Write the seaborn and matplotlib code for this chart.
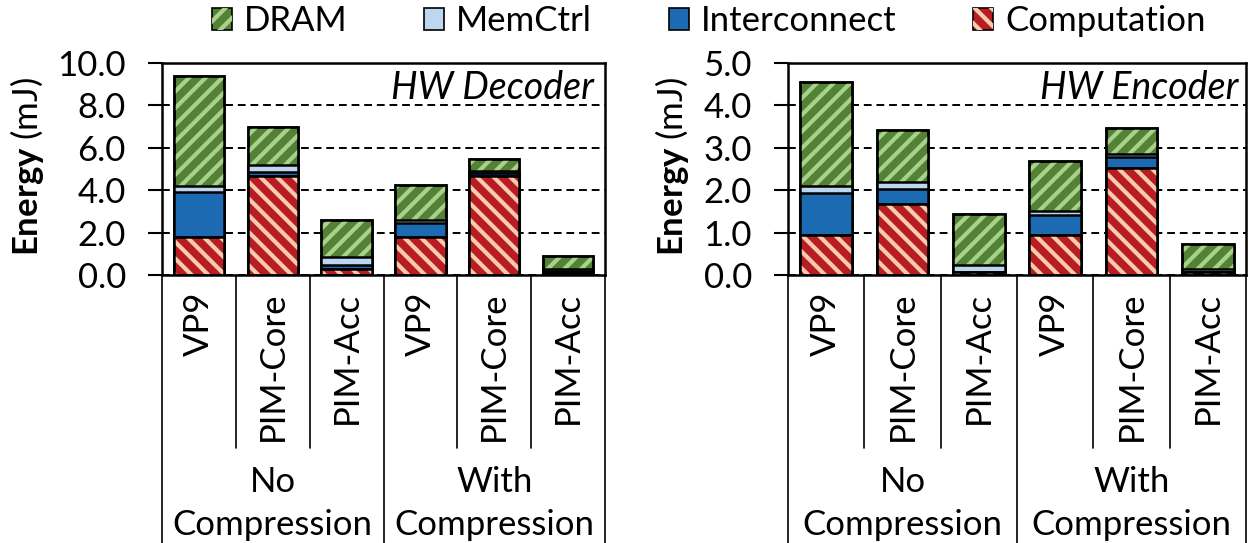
"""
Energy breakdown of the HW video decoder / encoder, with and without
compression, for the VP9 baseline, PIM-Core and PIM-Acc.
"""

import matplotlib

matplotlib.use("Agg")

import matplotlib.pyplot as plt
import numpy as np
import pandas as pd
import seaborn as sns
from matplotlib.patches import Patch
from matplotlib.ticker import FormatStrFormatter

# ---------------------------------------------------------------- data
configs = ["VP9", "PIM-Core", "PIM-Acc"]
groups = ["No\nCompression", "With\nCompression"]
components = ["Computation", "Interconnect", "MemCtrl", "DRAM"]  # bottom -> top

# segment heights (mJ), order: No comp (VP9, PIM-Core, PIM-Acc), With comp (...)
dec_computation = [1.77, 4.68, 0.28, 1.77, 4.68, 0.10]
dec_interconnect = [2.13, 0.16, 0.21, 0.66, 0.12, 0.08]
dec_memctrl = [0.31, 0.36, 0.34, 0.17, 0.12, 0.10]
dec_dram = [5.19, 1.76, 1.77, 1.66, 0.55, 0.63]

enc_computation = [0.95, 1.67, 0.06, 0.95, 2.53, 0.06]
enc_interconnect = [0.99, 0.37, 0.02, 0.47, 0.25, 0.02]
enc_memctrl = [0.16, 0.16, 0.16, 0.09, 0.08, 0.05]
enc_dram = [2.45, 1.21, 1.21, 1.18, 0.60, 0.61]

dec_yticks = [0, 2, 4, 6, 8, 10]
enc_yticks = [0, 1, 2, 3, 4, 5]

# ---------------------------------------------------------------- style
STYLE = {
    "DRAM": dict(face="#548235", hatch="//", hatch_color="#A9D18E"),
    "MemCtrl": dict(face="#BDD7EE"),
    "Interconnect": dict(face="#1C6BB2"),
    "Computation": dict(face="#B81C25", hatch="\\\\", hatch_color="#F8CBAD"),
}
FONT = "Lato"
FS = 25
BAR_W = 0.68
EDGE_LW = 1.8

sns.set_theme(style="ticks")
plt.rcParams["font.family"] = [FONT, "DejaVu Sans"]
plt.rcParams["mathtext.fontset"] = "custom"
plt.rcParams["mathtext.rm"] = FONT
plt.rcParams["mathtext.bf"] = f"{FONT}:bold"
plt.rcParams["hatch.linewidth"] = 3.0
plt.rcParams["axes.edgecolor"] = "black"
plt.rcParams["axes.linewidth"] = 1.8
for key in ["text.color", "axes.labelcolor", "xtick.color", "ytick.color"]:
    plt.rcParams[key] = "black"

slots = [f"{g}|{c}" for g in groups for c in configs]


def build_frame(segments):
    """Long table with the cumulative top of every stacked segment."""
    tops = np.cumsum(np.array([segments[c] for c in components]), axis=0)
    rows = []
    for ci, comp in enumerate(components):
        for si, slot in enumerate(slots):
            rows.append({"slot": slot, "component": comp,
                         "energy": segments[comp][si], "top": tops[ci, si]})
    return pd.DataFrame(rows)


def restyle_new(ax, n, **props):
    for p in ax.patches[n:]:
        p.set(**props)


def draw_layer(ax, df, comp):
    style = STYLE[comp]
    sub = df[df["component"] == comp]
    kw = dict(data=sub, x="slot", y="top", order=slots, width=BAR_W,
              saturation=1, errorbar=None, ax=ax)
    sns.barplot(color=style["face"], edgecolor="black", linewidth=EDGE_LW, **kw)
    if "hatch" in style:
        n = len(ax.patches)
        sns.barplot(color=style["face"], **kw)
        restyle_new(ax, n, facecolor="none", edgecolor=style["hatch_color"],
                    hatch=style["hatch"], linewidth=0)
        n = len(ax.patches)
        sns.barplot(color=style["face"], **kw)
        restyle_new(ax, n, facecolor="none", edgecolor="black", linewidth=EDGE_LW)


def draw_panel(ax, segments, yticks, title, title_x, label_x):
    df = build_frame(segments)
    # tallest (cumulative) layer first, each lower layer drawn over it
    for comp in reversed(components):
        draw_layer(ax, df, comp)

    ax.set_xlim(-0.5, len(slots) - 0.5)
    ax.set_ylim(yticks[0], yticks[-1])
    ax.set_yticks(yticks)
    ax.yaxis.set_major_formatter(FormatStrFormatter("%.1f"))
    ax.yaxis.grid(True, color="black", linestyle=(0, (4, 2.5)), linewidth=1.4)
    ax.set_axisbelow(True)
    for side in ["top", "right", "left", "bottom"]:
        ax.spines[side].set_visible(True)
        ax.spines[side].set_linewidth(EDGE_LW)
    ax.tick_params(axis="y", labelsize=FS, length=10, width=1.5, pad=16,
                   colors="black")

    ax.set_xticks(range(len(slots)))
    ax.set_xticklabels(configs * len(groups), rotation=90, va="top",
                       ha="center", fontsize=FS)
    ax.tick_params(axis="x", length=0, pad=12, colors="black")
    ax.set_xlabel("")

    ax.set_ylabel(r"$\mathbf{Energy}$ (mJ)", fontsize=FS, color="black")
    ax.yaxis.set_label_coords(label_x, 0.51)

    ax.text(title_x, 0.83, title, transform=ax.transAxes, ha="right",
            va="baseline", fontsize=27, style="italic", color="black")

    # category separators below the axis
    trans = ax.get_xaxis_transform()
    for i, x in enumerate(np.arange(-0.5, len(slots), 1.0)):
        y_end = -1.3 if i % len(configs) == 0 else -0.815
        ax.plot([x, x], [0, y_end], transform=trans, color="black",
                lw=1.2, clip_on=False)
    for gi, g in enumerate(groups):
        xc = gi * len(configs) + (len(configs) - 1) / 2
        ax.text(xc, -0.9, g, transform=trans, ha="center", va="top",
                fontsize=FS, linespacing=1.42, color="black")


fig = plt.figure(figsize=(12.5, 5.43), dpi=100)
ax_dec = fig.add_axes([162 / 1250, 268 / 543, 443 / 1250, 212 / 543])
ax_enc = fig.add_axes([788 / 1250, 268 / 543, 458 / 1250, 212 / 543])

draw_panel(ax_dec,
           {"Computation": dec_computation, "Interconnect": dec_interconnect,
            "MemCtrl": dec_memctrl, "DRAM": dec_dram},
           dec_yticks, "HW Decoder", 0.975, -0.262)
draw_panel(ax_enc,
           {"Computation": enc_computation, "Interconnect": enc_interconnect,
            "MemCtrl": enc_memctrl, "DRAM": enc_dram},
           enc_yticks, "HW Encoder", 0.984, -0.212)

# legend: hatched entries are a solid patch with a hatch-only patch on top
handles, labels = [], []
for comp in ["DRAM", "MemCtrl", "Interconnect", "Computation"]:
    style = STYLE[comp]
    base = Patch(facecolor=style["face"], edgecolor="black", linewidth=1.2)
    if "hatch" in style:
        over = Patch(facecolor="none", edgecolor=style["hatch_color"],
                     hatch=style["hatch"], linewidth=0)
        handles.append((base, over))
    else:
        handles.append(base)
    labels.append(comp)

leg = fig.legend(handles, labels, loc="center", bbox_to_anchor=(0.567, 0.961),
                 ncol=4, frameon=False, fontsize=FS, handlelength=0.58,
                 handleheight=0.62, handletextpad=0.35, columnspacing=2.2,
                 borderpad=0, borderaxespad=0)
for txt in leg.get_texts():
    txt.set_color("black")

fig.savefig("out.png", dpi=100)
